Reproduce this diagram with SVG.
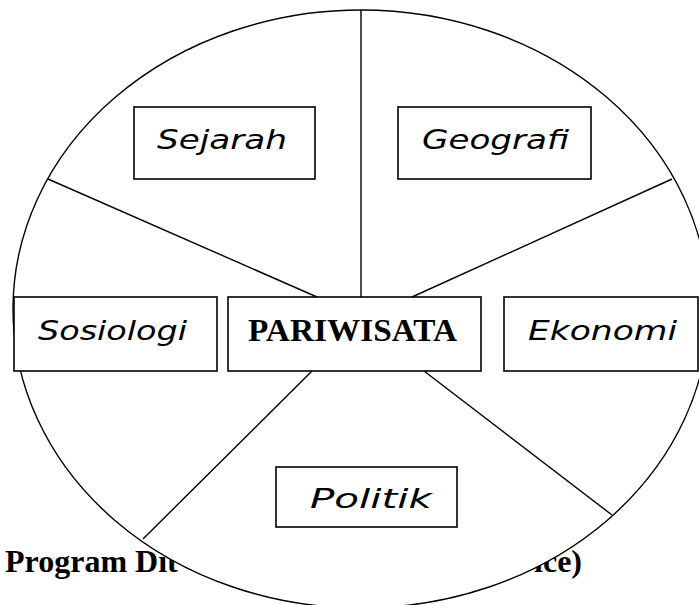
<svg xmlns="http://www.w3.org/2000/svg" width="699" height="605" viewBox="0 0 699 605">
<style>
.bg{fill:#fff}
.line{stroke:#000;stroke-width:1.4;fill:none}
.box{fill:#fff;stroke:#000;stroke-width:1.6}
.script{font-family:"DejaVu Sans","Noto Sans",sans-serif;font-style:italic;font-size:27px;fill:#000}
.bold{font-family:"Liberation Serif","Times New Roman",serif;font-weight:bold;fill:#000}
</style>
<rect class="bg" x="0" y="0" width="699" height="605"/>
<g id="caption">
<text class="bold" x="5" y="572" font-size="32">Program Dit</text>
<text class="bold" x="582" y="572" font-size="32" text-anchor="end">ice)</text>
</g>
<g id="circle">
<ellipse cx="361" cy="309" rx="348" ry="299" fill="#fff" stroke="#000" stroke-width="1.4"/>
</g>
<g id="connectors">
<line class="line" x1="361" y1="10" x2="361" y2="297"/>
<line class="line" x1="48" y1="179" x2="317" y2="297"/>
<line class="line" x1="672" y1="179" x2="412" y2="297"/>
<line class="line" x1="312" y1="371" x2="143" y2="539"/>
<line class="line" x1="424" y1="371" x2="612" y2="515"/>
</g>
<g id="sejarah">
<rect class="box" x="134" y="107" width="181" height="72"/>
<text class="script" x="157" y="149" textLength="130" lengthAdjust="spacingAndGlyphs">Sejarah</text>
</g>
<g id="geografi">
<rect class="box" x="398" y="107" width="193" height="72"/>
<text class="script" x="422" y="149" textLength="147" lengthAdjust="spacingAndGlyphs">Geografi</text>
</g>
<g id="sosiologi">
<rect class="box" x="14" y="297" width="203" height="74"/>
<text class="script" x="38" y="340" textLength="149" lengthAdjust="spacingAndGlyphs">Sosiologi</text>
</g>
<g id="pariwisata">
<rect class="box" x="228" y="297" width="253" height="74"/>
<text class="bold" x="248" y="341" font-size="32" textLength="209" lengthAdjust="spacingAndGlyphs">PARIWISATA</text>
</g>
<g id="ekonomi">
<rect class="box" x="504" y="297" width="194" height="74"/>
<text class="script" x="528" y="340" textLength="149" lengthAdjust="spacingAndGlyphs">Ekonomi</text>
</g>
<g id="politik">
<rect class="box" x="276" y="467" width="181" height="60"/>
<text class="script" x="310" y="508" textLength="122" lengthAdjust="spacingAndGlyphs">Politik</text>
</g>
</svg>
